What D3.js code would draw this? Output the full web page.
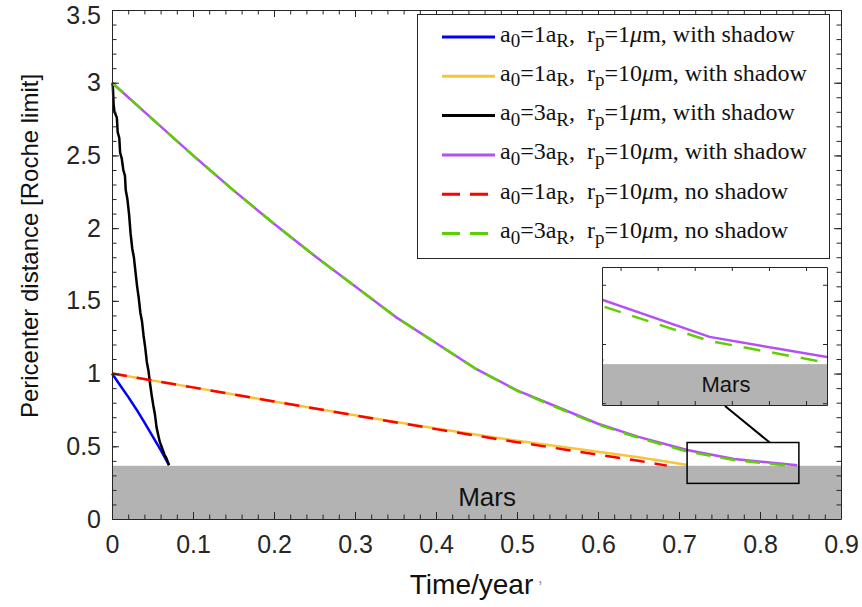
<!DOCTYPE html>
<html>
<head>
<meta charset="utf-8">
<script src="https://cdn.jsdelivr.net/npm/d3@7"></script>
<style>
  html, body { margin: 0; padding: 0; background: #fff; }
  svg { display: block; }
</style>
</head>
<body>
<div id="chart"></div>
<script>
// series: time in years, pericenter in Roche limits
const blueT = [0, 0.01, 0.02, 0.03, 0.04, 0.05, 0.06, 0.0704];
const blueV = [1, 0.92, 0.84, 0.755, 0.665, 0.57, 0.475, 0.37];

const yellowT = [0, 0.1, 0.2, 0.3, 0.4, 0.5, 0.6, 0.65, 0.711];
const yellowV = [1, 0.905, 0.808, 0.713, 0.622, 0.538, 0.462, 0.425, 0.372];

const blackT = [0, 0.001, 0.002, 0.003, 0.006, 0.007, 0.009, 0.010, 0.012, 0.014, 0.016, 0.017,
  0.019, 0.021, 0.023, 0.025, 0.027, 0.029, 0.031, 0.033, 0.035, 0.037, 0.039, 0.041, 0.043,
  0.045, 0.047, 0.049, 0.051, 0.053, 0.055, 0.057, 0.059, 0.061, 0.063, 0.065, 0.067, 0.0704];
const blackV = [3.00, 2.98, 2.85, 2.80, 2.76, 2.66, 2.62, 2.52, 2.48, 2.40, 2.36, 2.26,
  2.20, 2.10, 1.96, 1.86, 1.80, 1.70, 1.60, 1.52, 1.42, 1.36, 1.26, 1.18, 1.08,
  1.02, 0.93, 0.85, 0.78, 0.72, 0.63, 0.58, 0.53, 0.50, 0.47, 0.44, 0.42, 0.37];

const purpleT = [0, 0.05, 0.1, 0.15, 0.2, 0.25, 0.3, 0.35, 0.4, 0.45, 0.5, 0.55, 0.6, 0.65, 0.71, 0.768, 0.846];
const purpleV = [3.0, 2.75, 2.5, 2.26, 2.03, 1.81, 1.6, 1.39, 1.21, 1.03, 0.885, 0.77, 0.655, 0.565, 0.475, 0.412, 0.37];

const redT = [0, 0.1, 0.2, 0.3, 0.4, 0.5, 0.6, 0.65, 0.685];
const redV = [1, 0.905, 0.808, 0.712, 0.618, 0.528, 0.443, 0.40, 0.367];

const greenT = [0, 0.05, 0.1, 0.15, 0.2, 0.25, 0.3, 0.35, 0.4, 0.45, 0.5, 0.55, 0.6, 0.65, 0.71, 0.768, 0.832];
const greenV = [3.0, 2.75, 2.5, 2.26, 2.03, 1.81, 1.6, 1.39, 1.21, 1.03, 0.882, 0.765, 0.65, 0.558, 0.464, 0.405, 0.368];

const marsTop = 0.366;

const xTicks = [0, 0.1, 0.2, 0.3, 0.4, 0.5, 0.6, 0.7, 0.8, 0.9];
const yTicks = [0, 0.5, 1, 1.5, 2, 2.5, 3, 3.5];
const insetXTicks = [0.72, 0.74, 0.76, 0.78, 0.8, 0.82];
const insetYTicks = [0.3, 0.4, 0.5];

// legend text parts
const legendA0 = ['1', '1', '3', '3', '1', '3'];
const legendRp = ['1', '10', '1', '10', '10', '10'];
const legendShadow = ['with shadow', 'with shadow', 'with shadow', 'with shadow', 'no shadow', 'no shadow'];

const zip = (ts, vs) => ts.map((t, i) => [t, vs[i]]);

const series = [
  { pts: zip(blueT, blueV), color: '#0000ff', dash: null },
  { pts: zip(yellowT, yellowV), color: '#f7c43a', dash: null },
  { pts: zip(blackT, blackV), color: '#000000', dash: null },
  { pts: zip(purpleT, purpleV), color: '#b44ff5', dash: null },
  { pts: zip(redT, redV), color: '#ff0000', dash: '15,10' },
  { pts: zip(greenT, greenV), color: '#5ecf00', dash: '15,10' }
];

const W = 862, H = 607;
const axisColor = '#262626';
const sans = '"Liberation Sans", Arial, Helvetica, sans-serif';
const serif = '"Liberation Serif", "Times New Roman", serif';

const svg = d3.select('#chart').append('svg')
  .attr('width', W).attr('height', H);

const x = d3.scaleLinear().domain([0, 0.9]).range([112, 841]);
const y = d3.scaleLinear().domain([0, 3.5]).range([519, 10]);

const line = (sx, sy) => d3.line().x(d => sx(d[0])).y(d => sy(d[1]));

// draws four sided frame with inward ticks
function frame(g, sx, sy, major, minor, opts) {
  const [x0, x1] = sx.range();
  const [y0, y1] = sy.range();
  const fmt = opts.labels ? d3.format('~g') : () => '';
  const axes = [
    { a: d3.axisBottom(sx).tickValues(major.x), tr: `translate(0,${y0})`, lab: true, pad: opts.padX },
    { a: d3.axisTop(sx).tickValues(major.x), tr: `translate(0,${y1})`, lab: false, pad: 3 },
    { a: d3.axisLeft(sy).tickValues(major.y), tr: `translate(${x0},0)`, lab: true, pad: opts.padY },
    { a: d3.axisRight(sy).tickValues(major.y), tr: `translate(${x1},0)`, lab: false, pad: 3 }
  ];
  axes.forEach(ax => {
    const gg = g.append('g').attr('transform', ax.tr)
      .call(ax.a.tickSize(-opts.len).tickSizeOuter(0)
        .tickPadding(ax.pad)
        .tickFormat(ax.lab ? fmt : () => ''));
    gg.select('.domain').attr('stroke', axisColor);
    gg.selectAll('line').attr('stroke', axisColor);
    gg.selectAll('text').attr('fill', axisColor)
      .style('font-family', sans).style('font-size', opts.fontSize + 'px');
  });
  if (minor) {
    const mins = [
      { a: d3.axisBottom(sx).tickValues(minor.x), tr: `translate(0,${y0})` },
      { a: d3.axisTop(sx).tickValues(minor.x), tr: `translate(0,${y1})` },
      { a: d3.axisLeft(sy).tickValues(minor.y), tr: `translate(${x0},0)` },
      { a: d3.axisRight(sy).tickValues(minor.y), tr: `translate(${x1},0)` }
    ];
    mins.forEach(ax => {
      const gg = g.append('g').attr('transform', ax.tr)
        .call(ax.a.tickSize(-opts.minLen).tickSizeOuter(0).tickFormat(''));
      gg.select('.domain').remove();
      gg.selectAll('line').attr('stroke', axisColor);
    });
  }
}

// ---- main axes ----
const main = svg.append('g');

main.append('rect')
  .attr('x', x(0)).attr('y', y(marsTop))
  .attr('width', x(0.9) - x(0)).attr('height', y(0) - y(marsTop))
  .attr('fill', '#b3b3b3');

main.append('text')
  .attr('x', x(0.463)).attr('y', 506)
  .attr('text-anchor', 'middle')
  .style('font-family', sans).style('font-size', '26px')
  .attr('fill', '#111')
  .text('Mars');

series.forEach(s => {
  main.append('path')
    .attr('d', line(x, y)(s.pts))
    .attr('fill', 'none')
    .attr('stroke', s.color)
    .attr('stroke-width', 2.5)
    .attr('stroke-linejoin', 'round')
    .attr('stroke-dasharray', s.dash);
});

frame(main, x, y,
  { x: xTicks, y: yTicks },
  { x: d3.range(0, 0.9001, 0.02), y: d3.range(0, 3.5001, 0.1) },
  { labels: true, len: 7, minLen: 4.5, padX: 16, padY: 11, fontSize: 25 });

// keep the top label inside the picture
main.selectAll('text').filter(function () { return this.textContent === '3.5'; })
  .attr('dy', '13px');

// axis labels
svg.append('text')
  .attr('x', 476).attr('y', 594)
  .attr('text-anchor', 'middle')
  .style('font-family', sans).style('font-size', '28px')
  .attr('fill', '#111')
  .text('Time/year')
  .append('tspan').attr('fill', '#999').style('font-size', '18px').text(' \u2019');

svg.append('text')
  .attr('transform', 'translate(38,246) rotate(-90)')
  .attr('text-anchor', 'middle')
  .style('font-family', sans).style('font-size', '24px')
  .attr('fill', '#111')
  .text('Pericenter distance [Roche limit]');

// ---- zoom box and connector ----
svg.append('rect')
  .attr('x', x(0.71)).attr('y', y(0.526))
  .attr('width', x(0.848) - x(0.71)).attr('height', y(0.245) - y(0.526))
  .attr('fill', 'none').attr('stroke', '#000').attr('stroke-width', 1.5);

svg.append('line')
  .attr('x1', 725).attr('y1', 406)
  .attr('x2', x(0.812)).attr('y2', y(0.526))
  .attr('stroke', '#000').attr('stroke-width', 2);

// ---- inset ----
const ix = d3.scaleLinear().domain([0.71, 0.8313]).range([602, 827]);
const iy = d3.scaleLinear().domain([0.297, 0.53]).range([405, 267]);

const inset = svg.append('g');
inset.append('rect')
  .attr('x', 602).attr('y', 267).attr('width', 225).attr('height', 138)
  .attr('fill', '#fff');

svg.append('clipPath').attr('id', 'insetClip')
  .append('rect').attr('x', 602).attr('y', 267).attr('width', 225).attr('height', 138);

const ic = inset.append('g').attr('clip-path', 'url(#insetClip)');
ic.append('rect')
  .attr('x', 602).attr('y', iy(marsTop))
  .attr('width', 225).attr('height', 405 - iy(marsTop))
  .attr('fill', '#b3b3b3');

series.forEach(s => {
  ic.append('path')
    .attr('d', line(ix, iy)(s.pts))
    .attr('fill', 'none')
    .attr('stroke', s.color)
    .attr('stroke-width', 2.5)
    .attr('stroke-dasharray', s.dash ? '17,12' : null);
});

inset.append('text')
  .attr('x', 726).attr('y', 392)
  .attr('text-anchor', 'middle')
  .style('font-family', sans).style('font-size', '22px')
  .attr('fill', '#111')
  .text('Mars');

frame(inset, ix, iy,
  { x: insetXTicks, y: insetYTicks }, null,
  { labels: false, len: 4, padX: 3, padY: 3, fontSize: 10 });

// ---- legend ----
const legend = svg.append('g');
legend.append('rect')
  .attr('x', 417.5).attr('y', 14.5).attr('width', 412).attr('height', 244)
  .attr('fill', '#fff').attr('stroke', axisColor).attr('stroke-width', 1);

series.forEach((s, i) => {
  const base = 41.5 + i * 39.3;
  legend.append('line')
    .attr('x1', 442).attr('x2', 495)
    .attr('y1', base - 4.5).attr('y2', base - 4.5)
    .attr('stroke', s.color).attr('stroke-width', 3)
    .attr('stroke-dasharray', s.dash ? '18,10' : null);

  const t = legend.append('text')
    .attr('x', 500).attr('y', base)
    .style('font-family', serif).style('font-size', '24px')
    .style('white-space', 'pre')
    .attr('fill', '#111');
  const sub = (txt) => {
    t.append('tspan').attr('dy', 5.5).style('font-size', '19px').text(txt);
    return t.append('tspan').attr('dy', -5.5);
  };
  t.append('tspan').text('a');
  sub('0').text('=' + legendA0[i] + 'a');
  sub('R').text(',  r');
  sub('p').text('=' + legendRp[i]);
  t.append('tspan').style('font-style', 'italic').text('\u03bc');
  t.append('tspan').text('m, ' + legendShadow[i]);
});
</script>
</body>
</html>
